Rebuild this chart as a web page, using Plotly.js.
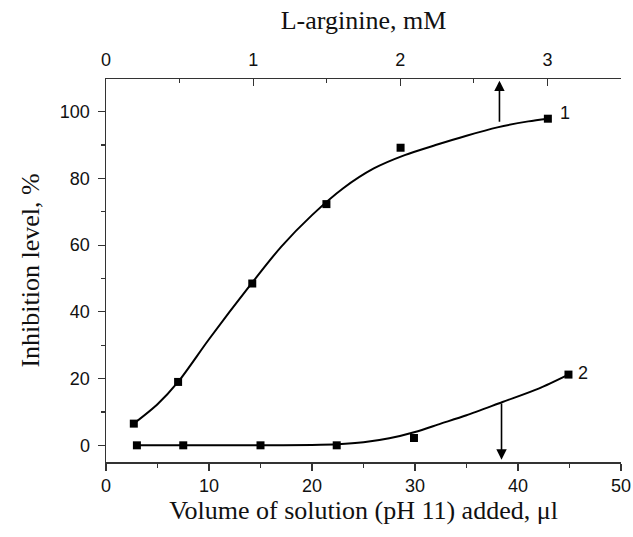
<!DOCTYPE html>
<html>
<head>
<meta charset="utf-8">
<script src="https://cdn.plot.ly/plotly-3.0.1.min.js"></script>
<style>html,body{margin:0;padding:0;background:#fff;}#chart{width:633px;height:537px;}</style>
</head>
<body>
<div id="chart"></div>
<script>
// Measured points (volume, µl ; inhibition, %)
const s1X = [2.7, 7.0, 14.2, 21.4, 28.6, 42.9];
const s1Y = [6.5, 19.0, 48.5, 72.3, 89.2, 97.9];
const s2X = [3.0, 7.5, 15.0, 22.4, 29.9, 44.9];
const s2Y = [0.0, 0.0, 0.0, 0.0, 2.2, 21.2];

// Fitted curves
const fit1X = [2.7, 5, 7, 10, 14, 17, 20, 23, 26, 29, 32, 35, 38, 41, 42.9];
const fit1Y = [6.5, 12.3, 19, 31.8, 48, 59.5, 69, 77, 83, 87, 90, 92.8, 95.3, 97.1, 97.9];
const fit2X = [3, 7.5, 15, 20, 22.5, 25, 27.5, 30, 32.5, 35, 38.5, 42, 44.9];
const fit2Y = [0, 0, 0, 0.1, 0.3, 0.9, 2.1, 4, 6.5, 9, 13, 17, 21.2];

// Curve labels and arrows
const curveLabels = ['1', '2'];
const labelX = [44.6, 46.3];
const labelY = [99.5, 21.8];
const arrowX = [38.2, 38.4];
const arrowFrom = [96.5, 13.0];
const arrowTo = [109.3, -4.3];

const traces = [
  {x: fit1X, y: fit1Y, mode: 'lines', line: {color: '#000', width: 2, shape: 'spline', smoothing: 0.8}, hoverinfo: 'skip'},
  {x: fit2X, y: fit2Y, mode: 'lines', line: {color: '#000', width: 2, shape: 'spline', smoothing: 0.8}, hoverinfo: 'skip'},
  {x: s1X, y: s1Y, mode: 'markers', marker: {symbol: 'square', size: 8, color: '#000'}},
  {x: s2X, y: s2Y, mode: 'markers', marker: {symbol: 'square', size: 8, color: '#000'}},
  {x: [], y: [], xaxis: 'x2', yaxis: 'y', mode: 'markers', hoverinfo: 'skip'}
];

const annotations = [];
for (let i = 0; i < curveLabels.length; i++) {
  annotations.push({x: labelX[i], y: labelY[i], xref: 'x', yref: 'y', text: curveLabels[i], showarrow: false,
    font: {family: 'Liberation Sans, Arial, sans-serif', size: 18, color: '#111'}});
  annotations.push({x: arrowX[i], y: arrowTo[i], ax: arrowX[i], ay: arrowFrom[i], xref: 'x', yref: 'y', axref: 'x', ayref: 'y',
    text: '', showarrow: true, arrowhead: 2, arrowsize: 1.3, arrowwidth: 1.6, arrowcolor: '#000', standoff: 0, startstandoff: 0});
}

const tickFont = {family: 'Liberation Sans, Arial, sans-serif', size: 18, color: '#111'};
const titleFont = {family: 'Liberation Serif, Times New Roman, serif', size: 26, color: '#111'};

const layout = {
  width: 633, height: 537,
  margin: {l: 106, r: 12, t: 79, b: 75, pad: 0},
  paper_bgcolor: '#fff', plot_bgcolor: '#fff',
  showlegend: false,
  xaxis: {
    range: [0, 50], dtick: 10, tick0: 0, ticks: 'outside', ticklen: 7, tickwidth: 1.2, tickcolor: '#333',
    minor: {dtick: 5, ticks: 'outside', ticklen: 4, tickwidth: 1.2, tickcolor: '#333', showgrid: false},
    showline: true, linecolor: '#333', linewidth: 1.5, showgrid: false, zeroline: false,
    tickfont: tickFont, ticklabelstandoff: 0,
    title: {text: 'Volume of solution (pH 11) added, μl', font: titleFont, standoff: 0}
  },
  xaxis2: {
    overlaying: 'x', side: 'top', anchor: 'y',
    range: [0, 3.5], dtick: 1, tick0: 0, ticks: 'inside', ticklen: 7, tickwidth: 1.2, tickcolor: '#333',
    minor: {dtick: 0.5, ticks: 'inside', ticklen: 4, tickwidth: 1.2, tickcolor: '#333', showgrid: false},
    showline: true, linecolor: '#333', linewidth: 1.5, showgrid: false, zeroline: false,
    tickfont: tickFont, ticklabelstandoff: 4,
    title: {text: 'L-arginine, mM', font: titleFont, standoff: 13}
  },
  yaxis: {
    range: [-5, 109.8], dtick: 20, tick0: 0, ticks: 'outside', ticklen: 7, tickwidth: 1.2, tickcolor: '#333',
    minor: {dtick: 10, ticks: 'outside', ticklen: 4, tickwidth: 1.2, tickcolor: '#333', showgrid: false},
    showline: true, linecolor: '#333', linewidth: 1.5, showgrid: false, zeroline: false,
    tickfont: tickFont, ticklabelstandoff: 4,
    title: {text: 'Inhibition level, %', font: titleFont, standoff: 13}
  },
  annotations: annotations
};

Plotly.newPlot('chart', traces, layout, {staticPlot: true, displayModeBar: false});
</script>
</body>
</html>
